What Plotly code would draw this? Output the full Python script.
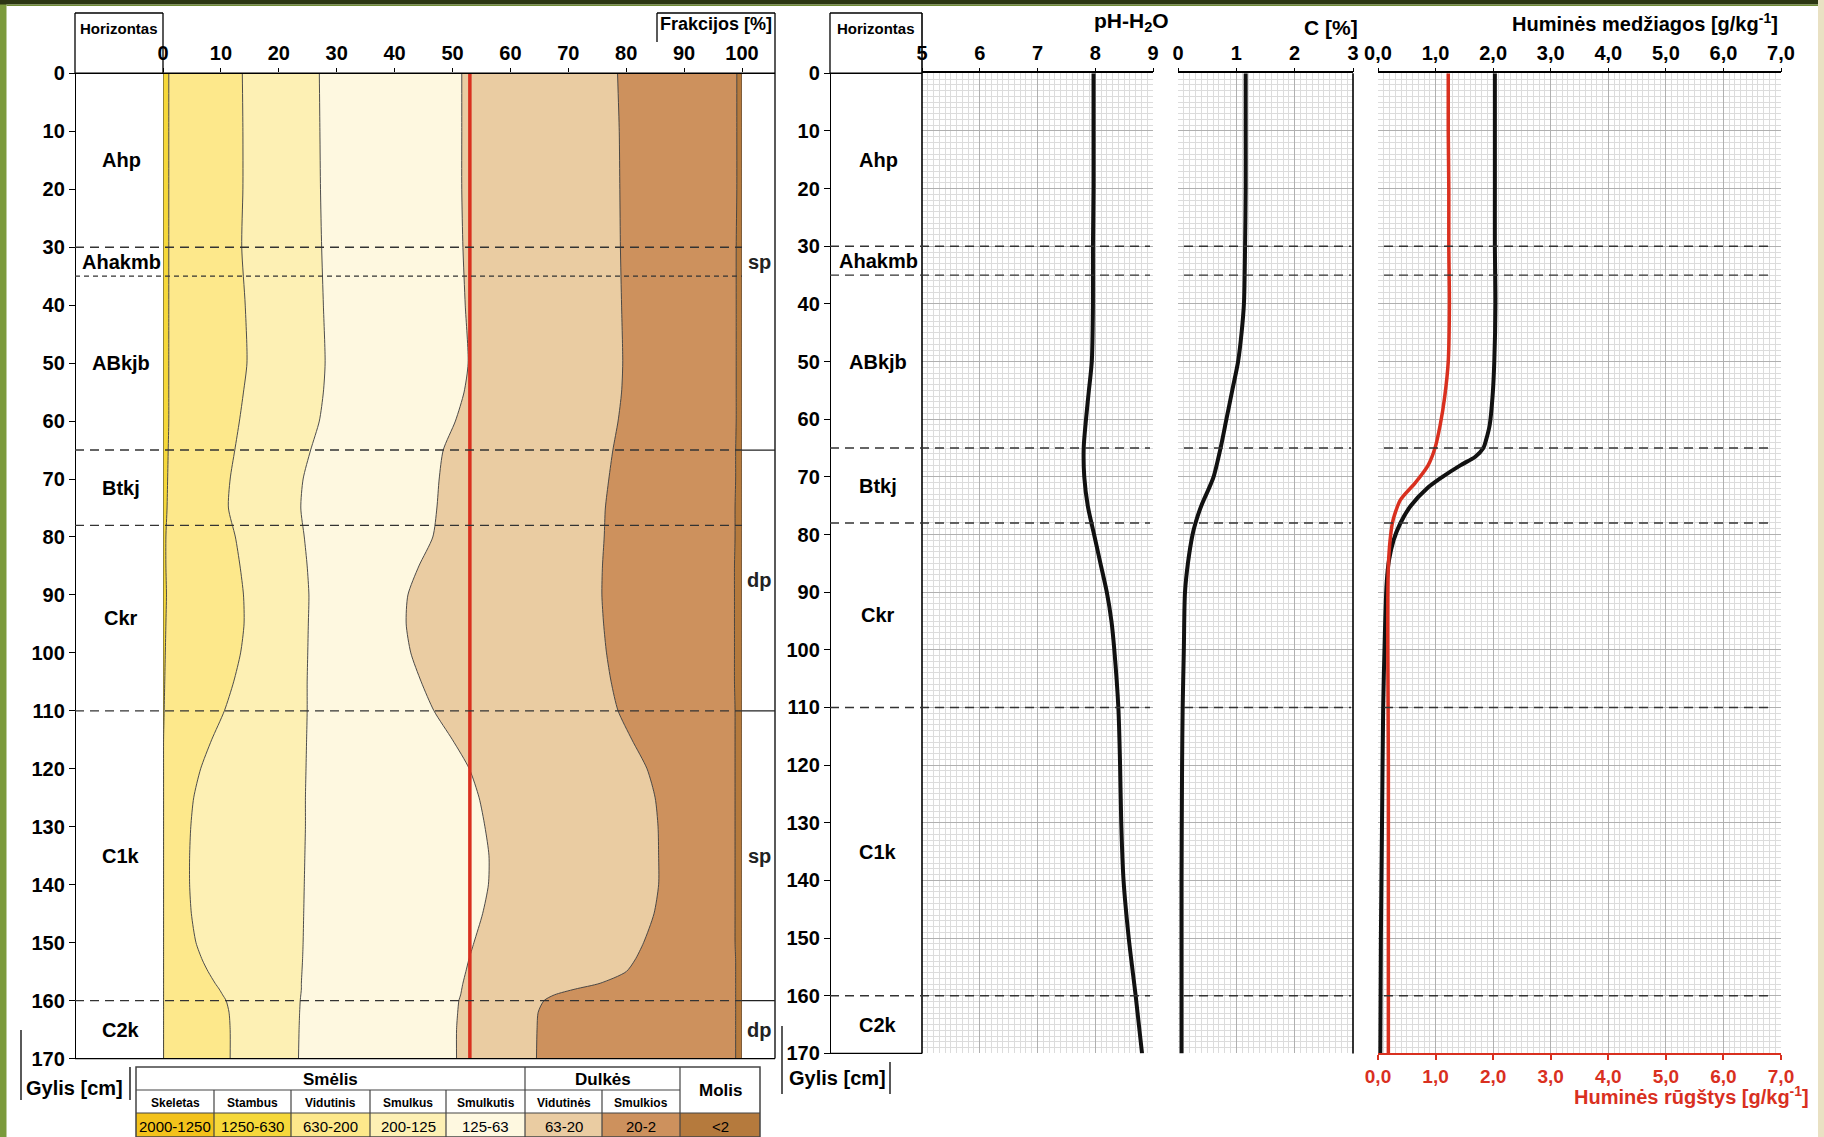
import plotly.graph_objects as go

W, H = 1824, 1137


def px(x):
    return x / W


def py(y):
    return 1 - y / H


SANS = "Liberation Sans, Arial, sans-serif"
RED = "#d9301f"

# ---------------- particle-size fractions (cumulative %, by depth) ----------------
frac_depth = [0, 10, 20, 30, 40, 50, 55, 60, 65, 70, 75, 80, 85, 90, 95, 100, 105, 110,
              115, 120, 125, 130, 135, 140, 145, 150, 153, 155, 157, 158, 159, 160, 162, 165, 170]
cum_stambus = [1.0, 1.0, 1.0, 1.0, 1.0, 1.0, 1.0, 1.0, 0.9, 0.8, 0.7, 0.5, 0.5, 0.6, 0.5, 0.4, 0.3, 0.2,
               0.1, 0.1, 0.1, 0.1, 0.1, 0.1, 0.1, 0.1, 0.1, 0.1, 0.1, 0.1, 0.1, 0.1, 0.1, 0.1, 0.1]
cum_vidutinis = [13.7, 13.8, 13.8, 13.6, 14.2, 14.5, 13.9, 13.2, 12.4, 11.6, 11.3, 12.5, 13.3, 13.9, 14.0, 13.4, 12.2, 10.6,
                 8.4, 6.5, 5.3, 4.8, 4.6, 4.6, 4.9, 5.7, 6.8, 7.8, 9.0, 9.7, 10.3, 10.9, 11.4, 11.6, 11.6]
cum_smulkus = [27.0, 27.1, 27.2, 27.4, 27.7, 28.0, 27.7, 27.0, 25.5, 24.2, 23.8, 24.4, 24.9, 25.2, 25.1, 25.0, 24.9, 24.9,
               24.8, 24.7, 24.6, 24.6, 24.5, 24.4, 24.3, 24.2, 24.1, 24.0, 23.9, 23.9, 23.8, 23.7, 23.6, 23.5, 23.4]
cum_smulkutis = [51.6, 51.6, 51.6, 51.8, 52.2, 52.7, 52.0, 50.5, 48.4, 47.7, 47.3, 46.6, 44.2, 42.3, 42.0, 42.8, 44.6, 46.8,
                 50.0, 52.9, 54.6, 55.6, 56.3, 56.2, 55.2, 53.7, 52.8, 52.3, 51.8, 51.6, 51.4, 51.1, 50.9, 50.7, 50.7]
cum_vidutines = [78.5, 78.8, 78.9, 79.0, 79.2, 79.4, 79.2, 78.6, 77.7, 77.0, 76.4, 76.2, 75.9, 75.8, 76.1, 76.6, 77.4, 78.6,
                 81.0, 83.6, 85.0, 85.5, 85.6, 85.6, 84.8, 83.0, 81.5, 80.0, 75.5, 71.2, 67.6, 65.8, 64.8, 64.6, 64.5]
cum_smulkios = [99.1, 99.1, 99.1, 99.0, 99.0, 99.0, 99.0, 99.0, 98.9, 98.9, 98.8, 98.8, 98.7, 98.7, 98.7, 98.7, 98.7, 98.8,
                98.8, 98.8, 98.8, 98.8, 98.8, 98.8, 98.8, 98.8, 98.9, 98.9, 98.9, 98.9, 98.9, 98.9, 98.9, 98.9, 98.9]
cum_molis = [100] * len(frac_depth)
red_line_pct = 53

# ---------------- horizons and texture ----------------
horizon_names = ["Ahp", "Ahakmb", "ABkjb", "Btkj", "Ckr", "C1k", "C2k"]
horizon_top = [0, 30, 35, 65, 78, 110, 160]
horizon_bottom = [30, 35, 65, 78, 110, 160, 170]
texture_labels = ["sp", "dp", "sp", "dp"]
texture_top = [0, 65, 110, 160]
texture_bottom = [65, 110, 160, 170]

# ---------------- fraction classes (legend table) ----------------
class_names = ["Skeletas", "Stambus", "Vidutinis", "Smulkus", "Smulkutis", "Vidutinės", "Smulkios", "Molis"]
class_ranges = ["2000-1250", "1250-630", "630-200", "200-125", "125-63", "63-20", "20-2", "<2"]
class_colors = ["#f3c21b", "#f6d83a", "#fde88b", "#fdf0b4", "#fef8e0", "#eacca2", "#cd915d", "#b57a3d"]
group_names = ["Smėlis", "Dulkės"]
group_first = [0, 5]
group_last = [5, 7]

# ---------------- chemistry profiles ----------------
ph_depth = [0, 10, 20, 30, 40, 50, 55, 60, 65, 70, 75, 80, 85, 90, 95, 100, 110, 120, 130, 140, 150, 160, 170]
ph_h2o = [7.97, 7.97, 7.97, 7.96, 7.96, 7.94, 7.89, 7.84, 7.80, 7.81, 7.87, 7.98, 8.09, 8.20, 8.28, 8.33,
          8.40, 8.43, 8.45, 8.49, 8.58, 8.70, 8.81]

c_depth = [0, 10, 20, 30, 40, 45, 50, 55, 60, 65, 70, 72, 75, 78, 80, 85, 90, 100, 110, 120, 140, 170]
c_pct = [1.16, 1.16, 1.16, 1.15, 1.13, 1.09, 1.03, 0.93, 0.83, 0.73, 0.61, 0.53, 0.40, 0.30, 0.25, 0.17,
         0.12, 0.10, 0.08, 0.07, 0.06, 0.06]

hm_depth = [0, 10, 20, 30, 40, 50, 56, 61, 63.5, 65, 66.5, 68, 70, 72, 75, 78, 81, 84.5, 88.5, 97, 110, 130, 150, 170]
humic_subst = [2.03, 2.03, 2.03, 2.03, 2.04, 2.02, 1.99, 1.94, 1.88, 1.83, 1.69, 1.43, 1.12, 0.85, 0.57, 0.39,
               0.27, 0.19, 0.15, 0.12, 0.09, 0.07, 0.05, 0.04]

ha_depth = [0, 10, 20, 30, 40, 50, 56, 61, 65, 68, 71, 74, 76.5, 78, 81, 85.5, 91, 100, 120, 140, 170]
humic_acids = [1.22, 1.22, 1.23, 1.23, 1.24, 1.22, 1.16, 1.08, 0.99, 0.87, 0.65, 0.39, 0.29, 0.25, 0.21,
               0.18, 0.17, 0.17, 0.18, 0.18, 0.18]

ph_ticks = [5, 6, 7, 8, 9]
c_ticks = [0, 1, 2, 3]
humic_ticks = [0, 1, 2, 3, 4, 5, 6, 7]
humic_tick_labels = ["0,0", "1,0", "2,0", "3,0", "4,0", "5,0", "6,0", "7,0"]

fig = go.Figure()

# ---- stacked fraction bands ----
fig.add_trace(go.Scatter(x=[0] * len(frac_depth), y=frac_depth, mode="lines",
                         line=dict(color="#333333", width=1), xaxis="x", yaxis="y",
                         hoverinfo="skip", showlegend=False))
bounds = [cum_stambus, cum_vidutinis, cum_smulkus, cum_smulkutis, cum_vidutines, cum_smulkios, cum_molis]
for k, b in enumerate(bounds):
    fig.add_trace(go.Scatter(x=b, y=frac_depth, mode="lines", fill="tonextx",
                             fillcolor=class_colors[k + 1],
                             line=dict(color="#3a3a3a", width=0.9, shape="spline", smoothing=0.7),
                             name=class_names[k + 1], xaxis="x", yaxis="y",
                             hoverinfo="skip", showlegend=False))
fig.add_trace(go.Scatter(x=[red_line_pct, red_line_pct], y=[0, 170], mode="lines",
                         line=dict(color=RED, width=3.5), xaxis="x", yaxis="y",
                         hoverinfo="skip", showlegend=False))

# ---- chemistry curves ----
fig.add_trace(go.Scatter(x=ph_h2o, y=ph_depth, mode="lines", xaxis="x2", yaxis="y2",
                         line=dict(color="#111111", width=4, shape="spline", smoothing=0.8),
                         showlegend=False))
fig.add_trace(go.Scatter(x=c_pct, y=c_depth, mode="lines", xaxis="x3", yaxis="y2",
                         line=dict(color="#111111", width=4, shape="spline", smoothing=0.8),
                         showlegend=False))
fig.add_trace(go.Scatter(x=humic_acids, y=ha_depth, mode="lines", xaxis="x5", yaxis="y2",
                         line=dict(color=RED, width=3.5, shape="spline", smoothing=0.8),
                         showlegend=False))
fig.add_trace(go.Scatter(x=humic_subst, y=hm_depth, mode="lines", xaxis="x4", yaxis="y2",
                         line=dict(color="#111111", width=4, shape="spline", smoothing=0.8),
                         showlegend=False))

tickfont = dict(family=SANS, size=20, color="black", weight="bold")
major_grid = "#b0b0b0"
minor_grid = "#dcdcdc"

top_axis = dict(side="top", ticks="outside", ticklen=4, tickwidth=1.3, tickcolor="black",
                zeroline=False, tickfont=tickfont, fixedrange=True, automargin=False)
panel_axis = dict(top_axis, anchor="y2", showline=True, linecolor="black", linewidth=1.5,
                  showgrid=True, gridcolor=major_grid, gridwidth=1)

fig.update_layout(
    width=W, height=H, margin=dict(l=0, r=0, t=0, b=0, pad=0, autoexpand=False),
    paper_bgcolor="white", plot_bgcolor="white", showlegend=False,
    xaxis=dict(top_axis, domain=[px(163), px(742)], range=[0, 100], anchor="y",
               tickmode="linear", tick0=0, dtick=10, showgrid=False, showline=False),
    yaxis=dict(domain=[py(1058.6), py(73.3)], range=[170, 0], anchor="free", position=px(75),
               tickmode="linear", tick0=0, dtick=10, ticks="outside", ticklen=6, tickwidth=1.2,
               tickcolor="black", showline=True, linecolor="black", linewidth=1.3,
               showgrid=False, zeroline=False, tickfont=tickfont, fixedrange=True, automargin=False),
    xaxis2=dict(panel_axis, domain=[px(922), px(1153)], range=[5, 9], tickvals=ph_ticks,
                minor=dict(tickmode="linear", tick0=5, dtick=0.1, showgrid=True,
                           gridcolor=minor_grid, gridwidth=0.8, ticks="")),
    xaxis3=dict(panel_axis, domain=[px(1178), px(1353)], range=[0, 3], tickvals=c_ticks,
                minor=dict(tickmode="linear", tick0=0, dtick=0.1, showgrid=True,
                           gridcolor=minor_grid, gridwidth=0.8, ticks="")),
    xaxis4=dict(panel_axis, domain=[px(1378), px(1781)], range=[0, 7], tickvals=humic_ticks,
                ticktext=humic_tick_labels,
                minor=dict(tickmode="linear", tick0=0, dtick=0.1, showgrid=True,
                           gridcolor=minor_grid, gridwidth=0.8, ticks="")),
    xaxis5=dict(overlaying="x4", anchor="y2", side="bottom", range=[0, 7], tickvals=humic_ticks,
                ticktext=humic_tick_labels, ticks="outside", ticklen=5, tickwidth=1.5, tickcolor=RED,
                showline=True, linecolor=RED, linewidth=2, showgrid=False, zeroline=False,
                tickfont=dict(family=SANS, size=19, color=RED, weight="bold"), fixedrange=True,
                automargin=False),
    yaxis2=dict(domain=[py(1053.4), py(73.3)], range=[170, 0], anchor="free", position=px(830),
                tickmode="linear", tick0=0, dtick=10, ticks="outside", ticklen=6, tickwidth=1.2,
                tickcolor="black", showline=True, linecolor="black", linewidth=1.3,
                showgrid=True, gridcolor=major_grid, gridwidth=1, zeroline=False,
                minor=dict(tickmode="linear", tick0=0, dtick=1, showgrid=True,
                           gridcolor=minor_grid, gridwidth=0.8, ticks=""),
                tickfont=tickfont, fixedrange=True, automargin=False),
)

shapes = []


def pline(x0, y0, x1, y1, color="black", width=1.3, dash="solid"):
    shapes.append(dict(type="line", xref="paper", yref="paper",
                       x0=px(x0), y0=py(y0), x1=px(x1), y1=py(y1),
                       line=dict(color=color, width=width, dash=dash)))


def prect(x0, y0, x1, y1, fill, color=None, width=0):
    shapes.append(dict(type="rect", xref="paper", yref="paper",
                       x0=px(x0), y0=py(y0), x1=px(x1), y1=py(y1), fillcolor=fill,
                       line=dict(color=color or fill, width=width)))


# page border
prect(0, 0, 6.5, H, "#7b9a3c")
prect(0, 0, 1818, 4.5, "#2c3613")
prect(6.5, 4.5, 1818, 6, "#6f8a36")
prect(1818, 0, W, H, "#e9e1c3")

# ---- left panel frame ----
pline(75, 13, 75, 73.3)
pline(75, 13, 163, 13)
pline(163, 13, 163, 73.3)
pline(75, 73.3, 775, 73.3, width=1.5)
pline(75, 1058.6, 775, 1058.6, width=1.3)
pline(775, 13, 775, 1058.6, width=1.3)
pline(657, 13, 775, 13)
pline(657, 13, 657, 42)

# horizon boundaries (left)
for d in horizon_bottom[:-1]:
    dash = "5px,4px" if d == 35 else "9px,6px"
    shapes.append(dict(type="line", xref="paper", yref="y", x0=px(75), x1=px(742), y0=d, y1=d,
                       line=dict(color="#333333", width=1.4, dash=dash)))
# texture boundaries
for d in texture_bottom[:-1]:
    shapes.append(dict(type="line", xref="paper", yref="y", x0=px(742), x1=px(775), y0=d, y1=d,
                       line=dict(color="#222222", width=1.3)))

# ---- right panel frame ----
pline(830, 13, 830, 73.3)
pline(830, 13, 922, 13)
pline(922, 13, 922, 1053.4, width=1.6)
pline(830, 73.3, 922, 73.3, width=1.5)
pline(830, 1053.4, 922, 1053.4, width=1.3)
pline(1353, 73.3, 1353, 1053.4, width=1.6)
for d in horizon_bottom[:-1]:
    for a, b in [(830, 1150), (1184, 1351), (1384, 1773)]:
        shapes.append(dict(type="line", xref="paper", yref="y2", x0=px(a), x1=px(b), y0=d, y1=d,
                           line=dict(color="#333333", width=1.4, dash="9px,6px")))

# "Gylis [cm]" brackets
pline(21, 1030, 21, 1100)
pline(130, 1067, 130, 1100)
pline(782, 1026, 782, 1094)
pline(890, 1062, 890, 1094)

# ---- legend table ----
col_x = [136, 214, 291, 370, 446, 525, 602, 680, 760]
row_y = [1067, 1090, 1113, 1137]
for i, c in enumerate(class_colors):
    prect(col_x[i], row_y[2], col_x[i + 1], row_y[3], c)
prect(col_x[0], row_y[0], col_x[-1], row_y[3], "rgba(0,0,0,0)", "#444444", 1.5)
pline(col_x[0], row_y[1], col_x[7], row_y[1], "#444444", 1.2)
pline(col_x[0], row_y[2], col_x[-1], row_y[2], "#444444", 1.2)
for i in range(1, 8):
    top = row_y[0] if i in (group_last[0], group_last[1]) else row_y[1]
    pline(col_x[i], top, col_x[i], row_y[3], "#444444", 1.2)

annotations = []


def ptext(x, y, text, size=20, color="black", xanchor="center", yanchor="middle", bold=True):
    annotations.append(dict(xref="paper", yref="paper", x=px(x), y=py(y), text=text,
                            showarrow=False, xanchor=xanchor, yanchor=yanchor,
                            font=dict(family=SANS, size=size, color=color,
                                      weight="bold" if bold else "normal")))


for gname, g0, g1 in zip(group_names, group_first, group_last):
    ptext((col_x[g0] + col_x[g1]) / 2, (row_y[0] + row_y[1]) / 2 + 1, gname, size=17)
ptext((col_x[7] + col_x[8]) / 2, (row_y[0] + row_y[2]) / 2, class_names[7], size=17)
for i in range(7):
    ptext((col_x[i] + col_x[i + 1]) / 2, (row_y[1] + row_y[2]) / 2 + 1, class_names[i], size=12)
for i in range(8):
    ptext((col_x[i] + col_x[i + 1]) / 2, (row_y[2] + row_y[3]) / 2 + 1, class_ranges[i], size=15, bold=False)

# titles
ptext(119, 28, "Horizontas", size=15)
ptext(876, 28, "Horizontas", size=15)
ptext(716, 24, "Frakcijos [%]", size=18)
ptext(1131, 22, "pH-H<sub>2</sub>O", size=21)
ptext(1331, 27, "C [%]", size=21)
ptext(1645, 22, "Huminės medžiagos [g/kg<sup>-1</sup>]", size=20)
ptext(1811, 1095, "Huminės rūgštys [g/kg<sup>-1</sup>]", size=20, color=RED, xanchor="right")
ptext(74, 1088, "Gylis [cm]", size=20)
ptext(837, 1078, "Gylis [cm]", size=20)

# horizon labels
for name, t, b in zip(horizon_names, horizon_top, horizon_bottom):
    mid = (t + b) / 2
    for xpos, yref in [(121, "y"), (878, "y2")]:
        annotations.append(dict(xref="paper", yref=yref, x=px(xpos), y=mid, text=name,
                                showarrow=False, xanchor="center", yanchor="middle",
                                font=dict(family=SANS, size=20, color="black", weight="bold")))
for lab, t, b in zip(texture_labels, texture_top, texture_bottom):
    annotations.append(dict(xref="paper", yref="y", x=px(759), y=(t + b) / 2, text=lab,
                            showarrow=False, xanchor="center", yanchor="middle",
                            font=dict(family=SANS, size=20, color="#222222", weight="bold")))

fig.update_layout(shapes=shapes, annotations=annotations)
fig.write_html("out.html")
